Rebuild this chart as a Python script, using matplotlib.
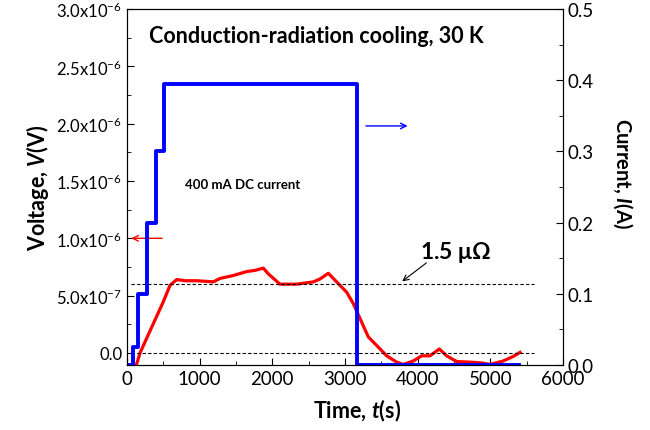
import matplotlib.pyplot as plt
import numpy as np

plt.rcParams['font.family'] = ['Lato', 'DejaVu Sans']
plt.rcParams['mathtext.fontset'] = 'custom'
plt.rcParams['mathtext.rm'] = 'Lato'
plt.rcParams['mathtext.bf'] = 'Lato:bold'
plt.rcParams['mathtext.it'] = 'Lato:italic'
plt.rcParams['mathtext.bfit'] = 'Lato:italic:bold'

# current steps (A)
t_cur = [0, 80, 150, 275, 400, 510, 3165, 5400]
i_cur = [0, 0.025, 0.1, 0.2, 0.3, 0.395, 0, 0]

# voltage trace (V)
t_volt = [133, 179, 358, 495, 592, 684, 800, 959, 1080, 1187, 1280, 1460, 1647, 1760, 1876,
          1945, 2105, 2335, 2564, 2656, 2770, 2885, 3023, 3115, 3207, 3321, 3436, 3574,
          3711, 3803, 3940, 4054, 4170, 4298, 4399, 4537, 4720, 4881, 4995, 5178, 5316, 5408]
v_volt = [-0.96e-7, 0.0, 2.5e-7, 4.4e-7, 5.9e-7, 6.4e-7, 6.3e-7, 6.3e-7, 6.25e-7, 6.2e-7,
          6.5e-7, 6.75e-7, 7.1e-7, 7.2e-7, 7.4e-7,
          6.9e-7, 6.0e-7, 6.0e-7, 6.2e-7, 6.45e-7, 6.95e-7, 6.2e-7, 5.3e-7, 4.3e-7, 3.0e-7,
          1.4e-7, 0.65e-7, -0.25e-7, -0.8e-7, -1.0e-7, -0.7e-7, -0.25e-7, -0.25e-7, 0.35e-7,
          -0.25e-7, -0.75e-7, -0.8e-7, -0.87e-7, -1.0e-7, -0.7e-7, -0.3e-7, 0.05e-7]

ref_levels = [0.0, 6.0e-7]

fig = plt.figure(figsize=(6.5, 4.31), dpi=100)
ax = fig.add_axes([127/650, 1-366/431, 436/650, 356/431])
ax2 = ax.twinx()

ax2.plot(t_cur, i_cur, color='#0000ff', lw=2.8, drawstyle='steps-post')
ax.plot(t_volt, v_volt, color='#ff0000', lw=2.3)
for lv in ref_levels:
    ax.plot([60, 5600], [lv, lv], color='black', lw=0.8, ls=(0, (3, 2)))

ax.set_xlim(0, 6000)
ax.set_ylim(-1.05e-7, 3.0e-6)
ax2.set_ylim(0, 0.5)

ax.set_xticks(np.arange(0, 6001, 1000))
ax.set_xticks(np.arange(500, 6000, 1000), minor=True)
vt = [0, 5e-7, 1e-6, 1.5e-6, 2e-6, 2.5e-6, 3e-6]
ax.set_yticks(vt)
ax.set_yticklabels(['0.0', r'5.0x10$^{-7}$', r'1.0x10$^{-6}$', r'1.5x10$^{-6}$',
                    r'2.0x10$^{-6}$', r'2.5x10$^{-6}$', r'3.0x10$^{-6}$'])
ax.set_yticks(np.arange(2.5e-7, 3e-6, 5e-7), minor=True)
ax2.set_yticks([0, 0.1, 0.2, 0.3, 0.4, 0.5])
ax2.set_yticklabels(['0.0', '0.1', '0.2', '0.3', '0.4', '0.5'])
ax2.set_yticks([0.05, 0.15, 0.25, 0.35, 0.45], minor=True)

ax.tick_params(which='both', direction='in', top=False)
ax.tick_params(axis='y', labelsize=12)
ax.tick_params(axis='x', labelsize=13.5)
ax.tick_params(which='major', length=5)
ax.tick_params(which='minor', length=3)
ax2.tick_params(which='both', direction='in', labelsize=13.5)
ax2.tick_params(which='major', length=5)
ax2.tick_params(which='minor', length=3)

ax.set_xlabel(r'Time, $\mathbfit{t}$(s)', fontsize=15.5, fontweight='bold')
ax.xaxis.set_label_coords(0.527, -0.09)
ax.set_ylabel(r'Voltage, $\mathbfit{V}$(V)', fontsize=15.5, fontweight='bold', labelpad=4)
ax2.set_ylabel(r'Current, $\mathbfit{I}$(A)', fontsize=14.5, fontweight='bold',
               rotation=270, va='center')
ax2.yaxis.set_label_coords(1.138, 0.542)

ax.text(0.05, 0.925, 'Conduction-radiation cooling, 30 K', transform=ax.transAxes,
        fontsize=15.5, fontweight='bold', va='center')
ax.text(800, 1.477e-6, '400 mA DC current', fontsize=9.5, fontweight='bold', va='center')
ax.text(4032, 8.83e-7, r'1.5 $\mathbf{\mu\Omega}$', fontsize=16.5, fontweight='bold',
        va='center')
ax.annotate('', xy=(3757, 6.1e-7), xytext=(4150, 8.0e-7),
            arrowprops=dict(arrowstyle='->', color='black', lw=0.8))
ax.annotate('', xy=(20, 1.0e-6), xytext=(520, 1.0e-6),
            arrowprops=dict(arrowstyle='->', color='#ff0000', lw=1))
ax.annotate('', xy=(3900, 1.98e-6), xytext=(3250, 1.98e-6),
            arrowprops=dict(arrowstyle='->', color='#0000ff', lw=1))

fig.savefig('out.png', dpi=100)
